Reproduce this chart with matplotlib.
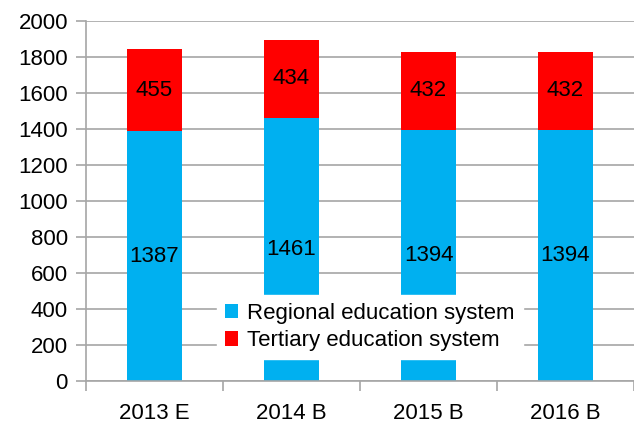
import matplotlib
matplotlib.use("Agg")
import matplotlib.pyplot as plt
from matplotlib.patches import Patch
from matplotlib import font_manager

categories = ["2013 E", "2014 B", "2015 B", "2016 B"]
regional = [1387, 1461, 1394, 1394]
tertiary = [455, 434, 432, 432]
series_names = ["Regional education system", "Tertiary education system"]

names = {f.name for f in font_manager.fontManager.ttflist}
fam = ['Liberation Sans Narrow'] if 'Liberation Sans Narrow' in names else []
plt.rcParams['font.family'] = fam + ['Liberation Sans', 'DejaVu Sans']
FS = 17.5 if fam else 16
BLUE = "#00B0F0"
RED = "#FF0000"
GRID = "#A6A6A6"

fig = plt.figure(figsize=(6.34, 4.28), dpi=100)
ax = fig.add_axes([86/634, 1 - 381/428, 1 - 86/634, (381 - 20.7)/428])

x = list(range(len(categories)))
w = 0.4
ax.bar(x, regional, width=w, color=BLUE, zorder=2)
ax.bar(x, tertiary, width=w, bottom=regional, color=RED, zorder=2)

for xi, r, t in zip(x, regional, tertiary):
    ax.text(xi, r / 2, str(r), ha="center", va="center", fontsize=FS, zorder=3)
    ax.text(xi, r + t / 2, str(t), ha="center", va="center", fontsize=FS, zorder=3)

ax.set_ylim(0, 2000)
ax.set_xlim(-0.5, -0.5 + 548/140)
ax.set_yticks(range(0, 2001, 200))
ax.yaxis.grid(True, color=GRID, linewidth=1.2, zorder=0)
ax.set_axisbelow(True)

ax.set_xticks(x)
ax.set_xticklabels(categories, fontsize=FS)
ax.set_xticks([i + 0.5 for i in range(-1, len(categories))], minor=True)
ax.tick_params(axis="x", which="major", length=0, pad=16)
ax.tick_params(axis="x", which="minor", length=7, width=1.2, color=GRID)
ax.tick_params(axis="y", length=7, width=1.2, color=GRID, labelsize=FS, pad=6)

for s in ["top", "right"]:
    ax.spines[s].set_visible(False)
for s in ["left", "bottom"]:
    ax.spines[s].set_color(GRID)
    ax.spines[s].set_linewidth(1.2)

handles = [Patch(facecolor=BLUE), Patch(facecolor=RED)]
leg = ax.legend(handles, series_names, loc="center",
                bbox_to_anchor=((370 - 86) / 548, 1 - (327 - 20.7) / 360.3),
                frameon=True, fancybox=False, framealpha=1, edgecolor="white",
                fontsize=FS, handlelength=0.6, handleheight=0.6, handletextpad=0.4,
                labelspacing=0.3, borderpad=0.35)
leg.set_zorder(5)

fig.savefig("out.png", dpi=100)
